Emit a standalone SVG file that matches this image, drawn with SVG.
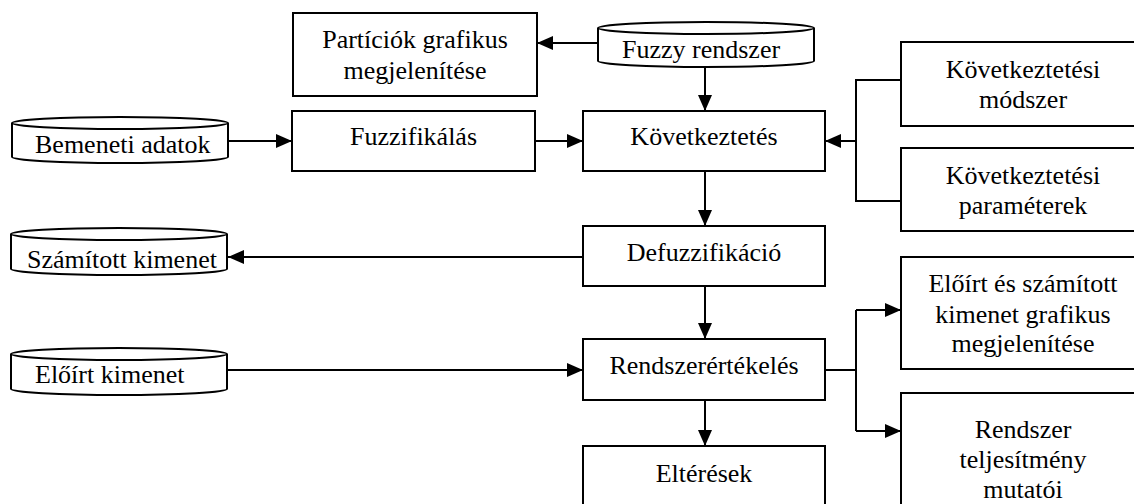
<svg xmlns="http://www.w3.org/2000/svg" width="1134" height="504" viewBox="0 0 1134 504">
<style>
.box{fill:#fff;stroke:#000;stroke-width:2}
.cyl{fill:#fff;stroke:#000;stroke-width:2;stroke-linejoin:round}
.ln{fill:none;stroke:#000;stroke-width:2}
text{font-family:"Liberation Serif","Times New Roman",serif;font-size:26px;fill:#000}
.c{text-anchor:middle}
</style>
<defs>
<marker id="ah" markerWidth="16" markerHeight="14" refX="16" refY="7" orient="auto" markerUnits="userSpaceOnUse">
<path d="M0,0 L16,7 L0,14 Z" fill="#000"/>
</marker>
</defs>
<rect width="1134" height="504" fill="#fff"/>
<g id="connectors">
<path class="ln" d="M598,43 H537" marker-end="url(#ah)"/>
<path class="ln" d="M705,67 V111" marker-end="url(#ah)"/>
<path class="ln" d="M228,141 H292" marker-end="url(#ah)"/>
<path class="ln" d="M535,141 H583" marker-end="url(#ah)"/>
<path class="ln" d="M901,80 H856 V201 H901"/>
<path class="ln" d="M856,141 H825" marker-end="url(#ah)"/>
<path class="ln" d="M705,171 V226" marker-end="url(#ah)"/>
<path class="ln" d="M583,257 H228" marker-end="url(#ah)"/>
<path class="ln" d="M705,286 V339" marker-end="url(#ah)"/>
<path class="ln" d="M228,370 H583" marker-end="url(#ah)"/>
<path class="ln" d="M705,400 V446" marker-end="url(#ah)"/>
<path class="ln" d="M825,370 H856"/>
<path class="ln" d="M856,310 V431"/>
<path class="ln" d="M856,310 H901" marker-end="url(#ah)"/>
<path class="ln" d="M856,431 H901" marker-end="url(#ah)"/>
</g>
<g id="particiok">
<rect class="box" x="293" y="13" width="244" height="83"/>
<text class="c" x="415" y="48">Partíciók grafikus</text>
<text class="c" x="415" y="79">megjelenítése</text>
</g>
<g id="fuzzy-rendszer">
<path class="cyl" d="M598,28 V61 A108,6 0 0 0 814,61 V28"/>
<ellipse class="cyl" cx="706" cy="28" rx="108" ry="6"/>
<text x="622" y="58">Fuzzy rendszer</text>
</g>
<g id="bemeneti">
<path class="cyl" d="M12,123 V157 A108,6 0 0 0 228,157 V123"/>
<ellipse class="cyl" cx="120" cy="123" rx="108" ry="6"/>
<text x="35" y="153">Bemeneti adatok</text>
</g>
<g id="fuzzifikalas">
<rect class="box" x="292" y="111" width="243" height="60"/>
<text class="c" x="413.5" y="145">Fuzzifikálás</text>
</g>
<g id="kovetkeztetes">
<rect class="box" x="583" y="111" width="242" height="60"/>
<text class="c" x="704" y="145">Következtetés</text>
</g>
<g id="modszer">
<rect class="box" x="901" y="42" width="244" height="84"/>
<text class="c" x="1023" y="78">Következtetési</text>
<text class="c" x="1023" y="108">módszer</text>
</g>
<g id="parameterek">
<rect class="box" x="901" y="148" width="244" height="83"/>
<text class="c" x="1023" y="184">Következtetési</text>
<text class="c" x="1023" y="214">paraméterek</text>
</g>
<g id="szamitott">
<path class="cyl" d="M11,234 V269 A108,6 0 0 0 227,269 V234"/>
<ellipse class="cyl" cx="119" cy="234" rx="108" ry="6"/>
<text x="27" y="268">Számított kimenet</text>
</g>
<g id="defuzzifikacio">
<rect class="box" x="583" y="226" width="242" height="60"/>
<text class="c" x="704" y="261">Defuzzifikáció</text>
</g>
<g id="eloirt">
<path class="cyl" d="M11,354 V389 A108,6 0 0 0 227,389 V354"/>
<ellipse class="cyl" cx="119" cy="354" rx="108" ry="6"/>
<text x="35" y="383">Előírt kimenet</text>
</g>
<g id="rendszerertekeles">
<rect class="box" x="583" y="339" width="242" height="61"/>
<text class="c" x="704" y="374">Rendszerértékelés</text>
</g>
<g id="grafikus">
<rect class="box" x="901" y="257" width="244" height="112"/>
<text class="c" x="1023" y="292">Előírt és számított</text>
<text class="c" x="1023" y="323">kimenet grafikus</text>
<text class="c" x="1023" y="352">megjelenítése</text>
</g>
<g id="teljesitmeny">
<rect class="box" x="901" y="393" width="244" height="130"/>
<text class="c" x="1023" y="438">Rendszer</text>
<text class="c" x="1023" y="468">teljesítmény</text>
<text class="c" x="1023" y="498">mutatói</text>
</g>
<g id="elteresek">
<rect class="box" x="583" y="446" width="242" height="80"/>
<text class="c" x="704" y="482">Eltérések</text>
</g>
</svg>
